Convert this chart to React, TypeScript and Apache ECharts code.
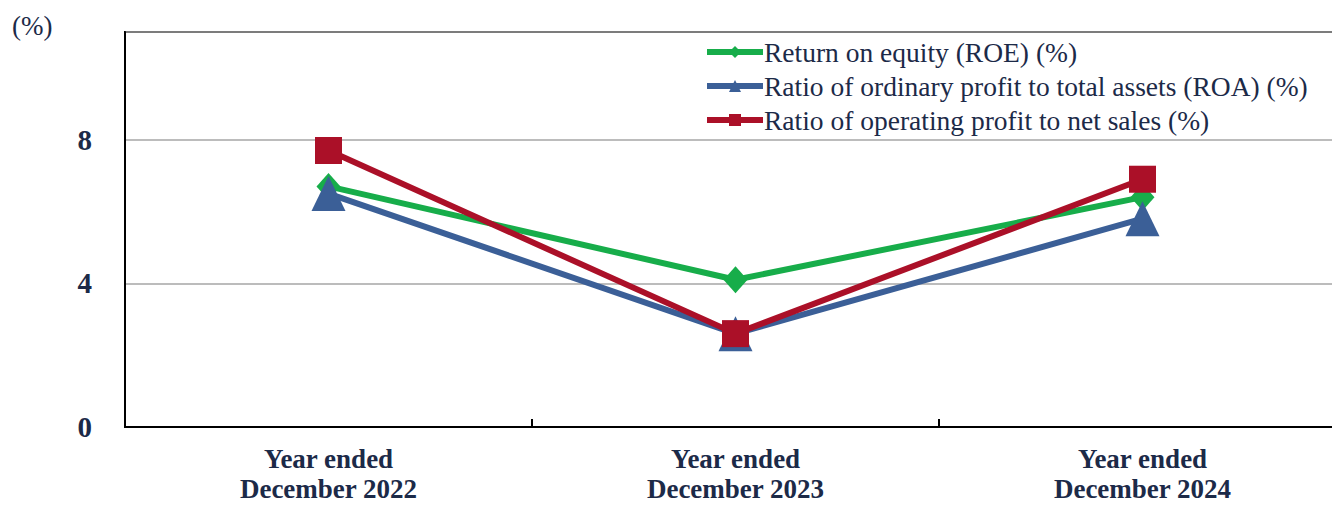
import React, { useEffect, useRef } from "react";
import * as echarts from "echarts";

const categories = ["Year ended\nDecember 2022", "Year ended\nDecember 2023", "Year ended\nDecember 2024"];
const roe = [6.7, 4.1, 6.4];
const roa = [6.5, 2.6, 5.8];
const opMargin = [7.7, 2.6, 6.9];
const seriesNames = [
  "Return on equity (ROE) (%)",
  "Ratio of ordinary profit to total assets (ROA) (%)",
  "Ratio of operating profit to net sales (%)",
];
const yTicks = { min: 0, max: 11, interval: 4 };

const FONT = "Liberation Serif";
const TEXT = "#1c2a48";

export default function App() {
  const ref = useRef<HTMLDivElement>(null);
  useEffect(() => {
    if (!ref.current) return;
    const chart = echarts.init(ref.current, null, { renderer: "svg" });
    chart.setOption({
      animation: false,
      textStyle: { fontFamily: FONT },
      grid: {
        left: 125,
        top: 32,
        width: 1221,
        height: 395,
        containLabel: false,
        outerBoundsMode: "none",
        show: true,
        borderColor: "#000",
        borderWidth: 2,
        backgroundColor: "transparent",
      },
      graphic: [
        {
          type: "text",
          left: 12,
          top: 12,
          style: { text: "(%)", fontSize: 27, fontFamily: FONT, fill: TEXT },
        },
      ],
      legend: {
        orient: "vertical",
        left: 699,
        top: 33,
        itemWidth: 56,
        itemHeight: 15,
        itemGap: 6,
        lineStyle: { width: 6 },
        textStyle: { fontSize: 27.5, fontFamily: FONT, color: TEXT, padding: [0, 0, 0, -4] },
        data: seriesNames,
      },
      xAxis: {
        type: "category",
        data: categories,
        boundaryGap: true,
        axisLine: { lineStyle: { color: "#000", width: 2 } },
        axisTick: { show: true, inside: true, length: 8, lineStyle: { color: "#000", width: 2 } },
        axisLabel: {
          fontSize: 27,
          fontWeight: "bold",
          fontFamily: FONT,
          color: TEXT,
          margin: 17,
          lineHeight: 30,
        },
      },
      yAxis: {
        type: "value",
        min: yTicks.min,
        max: yTicks.max,
        interval: yTicks.interval,
        axisLine: { show: true, lineStyle: { color: "#000", width: 2 } },
        axisTick: { show: false },
        splitLine: { lineStyle: { color: "#a6a6a6", width: 1.5 } },
        axisLabel: {
          fontSize: 29,
          fontWeight: "bold",
          fontFamily: FONT,
          color: TEXT,
          margin: 33,
          showMaxLabel: false,
        },
      },
      series: [
        {
          name: seriesNames[0],
          type: "line",
          data: roe,
          symbol: "diamond",
          symbolSize: [24, 27],
          lineStyle: { color: "#17ad4a", width: 6 },
          itemStyle: { color: "#17ad4a" },
        },
        {
          name: seriesNames[1],
          type: "line",
          data: roa,
          symbol: "triangle",
          symbolSize: [34, 35],
          lineStyle: { color: "#3b5f97", width: 6 },
          itemStyle: { color: "#3b5f97" },
        },
        {
          name: seriesNames[2],
          type: "line",
          data: opMargin,
          symbol: "rect",
          symbolSize: 27,
          lineStyle: { color: "#ab1028", width: 6 },
          itemStyle: { color: "#ab1028" },
        },
      ],
    });
    return () => chart.dispose();
  }, []);
  return (
    <div
      ref={ref}
      style={{ position: "fixed", left: 0, top: 0, width: 1332, height: 505, background: "#fff" }}
    />
  );
}
